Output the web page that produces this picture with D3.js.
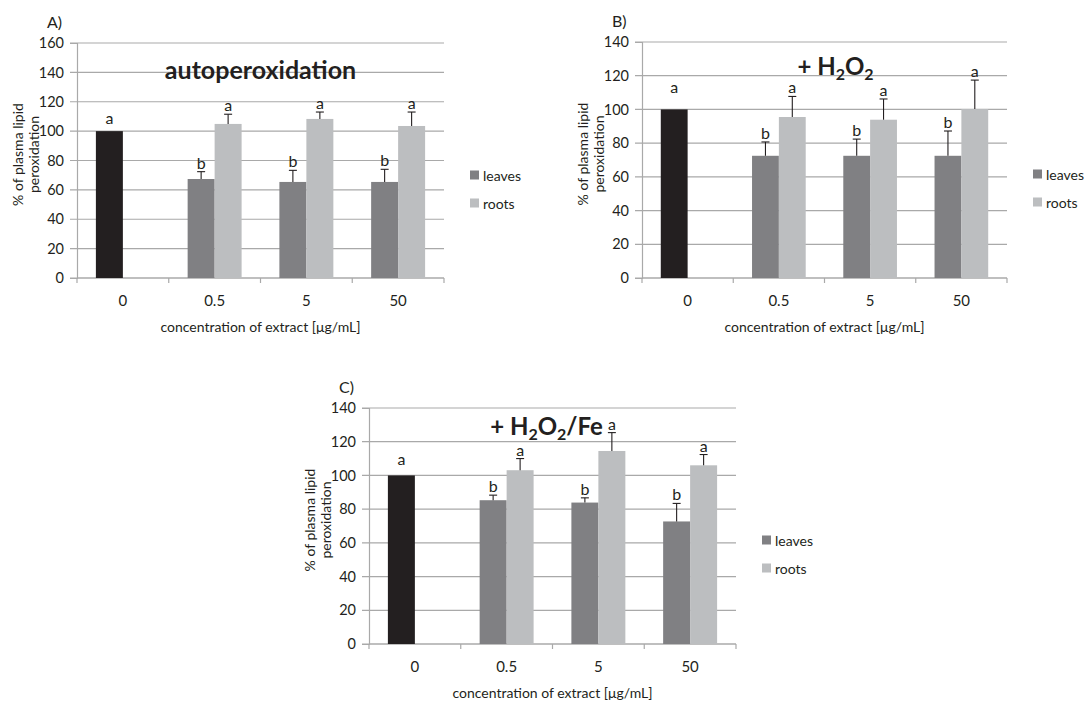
<!DOCTYPE html>
<html>
<head>
<meta charset="utf-8">
<script src="https://cdn.jsdelivr.net/npm/d3@7"></script>
<style>
  body { margin: 0; background: #fff; }
  text { font-family: Lato, "Open Sans", sans-serif; fill: #231f20; }
</style>
</head>
<body>
<div id="chart"></div>
<script>
const WIDTH = 1087, HEIGHT = 701;

const concentrations = ["0", "0.5", "5", "50"];
const seriesNames = ["leaves", "roots"];

// A) autoperoxidation  (first leaves value = control)
const autoLeaves = [100, 67.4, 65.4, 65.4];
const autoLeavesErr = [0, 5.0, 7.9, 8.6];
const autoRoots = [null, 104.9, 108.3, 103.5];
const autoRootsErr = [0, 6.6, 4.7, 9.5];
const autoLeavesLetters = ["a", "b", "b", "b"];
const autoRootsLetters = ["", "a", "a", "a"];
const autoControlLetterAt = 105;

// B) + H2O2
const h2o2Leaves = [100, 72.5, 72.5, 72.5];
const h2o2LeavesErr = [0, 8.2, 9.9, 14.7];
const h2o2Roots = [null, 95.5, 93.9, 100.2];
const h2o2RootsErr = [0, 12.2, 12.3, 17.2];
const h2o2LeavesLetters = ["a", "b", "b", "b"];
const h2o2RootsLetters = ["", "a", "a", "a"];
const h2o2ControlLetterAt = 110;

// C) + H2O2/Fe
const feLeaves = [100, 85.3, 83.9, 72.7];
const feLeavesErr = [0, 3.0, 2.8, 10.7];
const feRoots = [null, 103.1, 114.5, 106.0];
const feRootsErr = [0, 6.9, 10.9, 6.4];
const feLeavesLetters = ["a", "b", "b", "b"];
const feRootsLetters = ["", "a", "a", "a"];
const feControlLetterAt = 106;

const control_color = "#231f20";
const leaves_color = "#808083";
const roots_color = "#bcbec0";
const grid_color = "#a9a9a9";

const svg = d3.select("#chart").append("svg")
  .attr("width", WIDTH).attr("height", HEIGHT);

function drawPanel(p) {
  const g = svg.append("g").attr("transform", `translate(${p.left},${p.top})`);
  const w = p.width, h = p.height;

  const y = d3.scaleLinear().domain([0, p.yMax]).range([h, 0]);
  const x0 = d3.scaleBand().domain(concentrations).range([0, w]).padding(0);
  const x1 = d3.scaleBand().domain(seriesNames).range([0, x0.bandwidth()])
    .paddingInner(0).paddingOuter(0.7);
  const ticks = d3.range(0, p.yMax + 1, 20);

  // grid
  g.append("g").selectAll("line").data(ticks).join("line")
    .attr("x1", -7).attr("x2", w)
    .attr("y1", d => y(d)).attr("y2", d => y(d))
    .attr("stroke", grid_color).attr("stroke-width", 1.2);

  // y axis
  const ya = g.append("g").call(d3.axisLeft(y).tickValues(ticks).tickSize(7).tickPadding(6));
  ya.select(".domain").attr("stroke", grid_color).attr("stroke-width", 1.2);
  ya.selectAll(".tick line").remove();
  ya.selectAll("text").attr("font-size", 14.5).style("fill", "#231f20");

  // x axis
  g.append("line").attr("x1", 0).attr("x2", w).attr("y1", h).attr("y2", h)
    .attr("stroke", grid_color).attr("stroke-width", 1.2);
  const bounds = concentrations.map(c => x0(c)).concat([x0.range()[1]]);
  g.append("g").selectAll("line").data(bounds).join("line")
    .attr("x1", d => d).attr("x2", d => d).attr("y1", h).attr("y2", h + 5)
    .attr("stroke", grid_color).attr("stroke-width", 1.2);
  const xa = g.append("g").attr("transform", `translate(0,${h})`)
    .call(d3.axisBottom(x0).tickSize(0).tickPadding(17));
  xa.select(".domain").remove();
  xa.selectAll("text").attr("font-size", 15).style("fill", "#231f20");

  // bars
  const rows = [];
  concentrations.forEach((c, i) => {
    rows.push({ c, s: "leaves", v: p.leaves[i], e: p.leavesErr[i], l: p.leavesLetters[i], control: i === 0 });
    if (p.roots[i] != null)
      rows.push({ c, s: "roots", v: p.roots[i], e: p.rootsErr[i], l: p.rootsLetters[i], control: false });
  });

  g.append("g").selectAll("rect").data(rows).join("rect")
    .attr("x", d => x0(d.c) + x1(d.s))
    .attr("width", x1.bandwidth())
    .attr("y", d => y(d.v))
    .attr("height", d => h - y(d.v))
    .attr("fill", d => d.control ? control_color : (d.s === "leaves" ? leaves_color : roots_color));

  // error bars (upper only)
  const errs = rows.filter(d => d.e > 0);
  const cx = d => x0(d.c) + x1(d.s) + x1.bandwidth() / 2;
  const eg = g.append("g").attr("stroke", "#231f20").attr("stroke-width", 1.1);
  eg.selectAll(".ev").data(errs).join("line").attr("class", "ev")
    .attr("x1", cx).attr("x2", cx)
    .attr("y1", d => y(d.v)).attr("y2", d => y(d.v + d.e));
  eg.selectAll(".ec").data(errs).join("line").attr("class", "ec")
    .attr("x1", d => cx(d) - 4).attr("x2", d => cx(d) + 4)
    .attr("y1", d => y(d.v + d.e)).attr("y2", d => y(d.v + d.e));

  // letters
  g.append("g").selectAll("text").data(rows.filter(d => d.l)).join("text")
    .attr("x", cx)
    .attr("y", d => d.control ? y(p.controlLetterAt) : y(d.v + d.e) - 3)
    .attr("text-anchor", "middle").attr("font-size", 16)
    .text(d => d.l);

  // panel label
  svg.append("text").attr("x", p.left - 30).attr("y", p.top - 15)
    .attr("font-size", 16).text(p.label);

  // y title (two lines)
  const ymid = h / 2 - 6;
  [["% of plasma lipid", -60], ["peroxidation", -44]].forEach(([t, dx]) => {
    g.append("text")
      .attr("transform", `translate(${dx},${ymid}) rotate(-90)`)
      .attr("text-anchor", "middle").attr("dominant-baseline", "central")
      .attr("font-size", 14).text(t);
  });

  // x title
  g.append("text").attr("x", w / 2).attr("y", h + 54)
    .attr("text-anchor", "middle").attr("font-size", 14)
    .text("concentration of extract [\u03bcg/mL]");

  // chart title
  const tt = g.append("text").attr("x", w / 2 + p.titleDx).attr("y", p.titleY)
    .attr("text-anchor", "middle").attr("font-size", p.titleSize).attr("font-weight", "bold");
  p.title.forEach(part => {
    tt.append("tspan")
      .attr("font-size", part.sub ? 16 : p.titleSize)
      .attr("dy", part.sub ? 5 : (part.after ? -5 : 0))
      .text(part.t);
  });

  // legend
  const lg = g.append("g").attr("transform", `translate(${w + 26},${132})`);
  seriesNames.forEach((s, i) => {
    lg.append("rect").attr("x", 0).attr("y", i * 28 - 4.5).attr("width", 9).attr("height", 9)
      .attr("fill", s === "leaves" ? leaves_color : roots_color);
    lg.append("text").attr("x", 13).attr("y", i * 28).attr("dominant-baseline", "central")
      .attr("font-size", 14).text(s);
  });
}

drawPanel({
  label: "A)", left: 77, top: 43, width: 367, height: 235, yMax: 160,
  leaves: autoLeaves, leavesErr: autoLeavesErr, roots: autoRoots, rootsErr: autoRootsErr,
  leavesLetters: autoLeavesLetters, rootsLetters: autoRootsLetters, controlLetterAt: autoControlLetterAt,
  title: [{ t: "autoperoxidation" }], titleDx: 0, titleY: 36, titleSize: 25
});

drawPanel({
  label: "B)", left: 642, top: 42, width: 365, height: 236, yMax: 140,
  leaves: h2o2Leaves, leavesErr: h2o2LeavesErr, roots: h2o2Roots, rootsErr: h2o2RootsErr,
  leavesLetters: h2o2LeavesLetters, rootsLetters: h2o2RootsLetters, controlLetterAt: h2o2ControlLetterAt,
  title: [{ t: "+ H" }, { t: "2", sub: true }, { t: "O", after: true }, { t: "2", sub: true }],
  titleDx: 11, titleY: 33, titleSize: 24
});

drawPanel({
  label: "C)", left: 369, top: 408, width: 367, height: 236, yMax: 140,
  leaves: feLeaves, leavesErr: feLeavesErr, roots: feRoots, rootsErr: feRootsErr,
  leavesLetters: feLeavesLetters, rootsLetters: feRootsLetters, controlLetterAt: feControlLetterAt,
  title: [{ t: "+ H" }, { t: "2", sub: true }, { t: "O", after: true }, { t: "2", sub: true }, { t: "/Fe", after: true }],
  titleDx: -6, titleY: 27, titleSize: 24
});
</script>
</body>
</html>
